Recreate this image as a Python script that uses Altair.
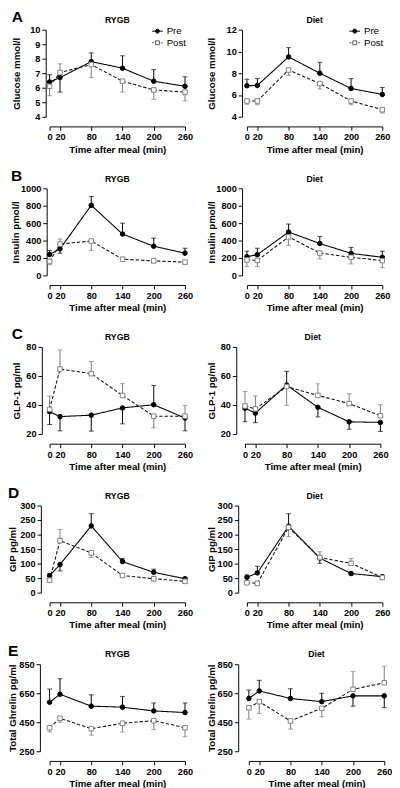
import altair as alt
import pandas as pd

FONT = "Liberation Sans"

times = [0, 20, 80, 140, 200, 260]
series_names = ["Pre", "Post"]

# A: Glucose (mmol/l)  -- mean and end of the (one-sided) SEM bar
glu_rygb_pre = [6.4, 6.7, 7.8, 7.35, 6.45, 6.1]
glu_rygb_pre_bar = [6.9, 5.7, 8.4, 8.2, 7.25, 6.75]
glu_rygb_post = [6.1, 7.05, 7.6, 6.45, 5.85, 5.7]
glu_rygb_post_bar = [5.45, 7.65, 6.7, 5.7, 5.2, 5.1]
glu_diet_pre = [6.85, 6.88, 9.5, 8.0, 6.6, 6.05]
glu_diet_pre_bar = [7.45, 7.5, 10.35, 9.0, 7.5, 6.7]
glu_diet_post = [5.45, 5.45, 8.3, 7.05, 5.45, 4.65]
glu_diet_post_bar = [5.15, 5.1, 7.8, 6.55, 5.1, 4.35]

# B: Insulin (pmol/l)
ins_rygb_pre = [240, 305, 805, 475, 335, 255]
ins_rygb_pre_bar = [285, 255, 905, 600, 428, 312]
ins_rygb_post = [160, 360, 395, 186, 167, 152]
ins_rygb_post_bar = [122, 418, 285, 172, 145, 133]
ins_diet_pre = [215, 238, 498, 366, 253, 208]
ins_diet_pre_bar = [278, 312, 590, 448, 322, 278]
ins_diet_post = [177, 172, 442, 257, 208, 170]
ins_diet_post_bar = [100, 100, 345, 189, 132, 88]

# C: GLP-1 (pg/ml)
glp_rygb_pre = [35.4, 32.0, 33.0, 38.0, 40.2, 31.0]
glp_rygb_pre_bar = [26.5, 22.2, 22.0, 27.0, 53.5, 22.2]
glp_rygb_post = [37.0, 64.8, 61.6, 46.6, 32.3, 32.3]
glp_rygb_post_bar = [46.2, 78.0, 70.0, 54.7, 24.3, 39.8]
glp_diet_pre = [37.8, 34.4, 53.8, 38.4, 28.4, 28.0]
glp_diet_pre_bar = [28.5, 27.8, 63.2, 31.8, 23.3, 21.8]
glp_diet_post = [39.3, 37.3, 52.7, 46.6, 41.0, 32.6]
glp_diet_post_bar = [49.3, 46.2, 39.8, 54.6, 47.8, 40.2]

# D: GIP (pg/ml)
gip_rygb_pre = [58, 97, 230, 107, 70, 48]
gip_rygb_pre_bar = [66, 75, 272, 118, 81, 53]
gip_rygb_post = [43, 179, 137, 59, 48, 39]
gip_rygb_post_bar = [38, 218, 121, 53, 40, 33]
gip_diet_pre = [53, 68, 229, 119, 66, 55]
gip_diet_pre_bar = [61, 91, 272, 101, 61, 60]
gip_diet_post = [34, 32, 225, 121, 101, 52]
gip_diet_post_bar = [30, 28, 193, 141, 118, 46]

# E: Total ghrelin (pg/ml)
ghr_rygb_pre = [588, 643, 561, 554, 528, 517]
ghr_rygb_pre_bar = [679, 750, 639, 628, 583, 583]
ghr_rygb_post = [412, 477, 406, 443, 461, 412]
ghr_rygb_post_bar = [383, 450, 361, 383, 399, 350]
ghr_diet_pre = [614, 666, 614, 592, 632, 632]
ghr_diet_pre_bar = [672, 739, 681, 650, 561, 550]
ghr_diet_post = [550, 592, 459, 546, 677, 722]
ghr_diet_post_bar = [472, 510, 403, 488, 799, 837]

# Tick values per row
glu_rygb_ticks = [4, 5, 6, 7, 8, 9, 10]
glu_diet_ticks = [4, 6, 8, 10, 12]
ins_ticks = [0, 200, 400, 600, 800, 1000]
glp_ticks = [20, 40, 60, 80]
gip_ticks = [0, 50, 100, 150, 200, 250, 300]
ghr_ticks = [250, 450, 650, 850]

W, H = 140, 90
PRE_COL = "#000000"
POST_COL = "#7a7a7a"

LEGEND_PATHS = [
    "M-1.1,0H-0.4M0.4,0H1.1M0.42,0L0.3,0.3L0,0.42L-0.3,0.3L-0.42,0L-0.3,-0.3L0,-0.42L0.3,-0.3Z",
    "M-1.1,0H-0.7M0.7,0H1.1M-0.4,-0.4H0.4V0.4H-0.4Z",
]


def make_df(pre, pre_bar, post, post_bar):
    rows = []
    for t, m, b in zip(times, pre, pre_bar):
        rows.append({"time": t, "series": "Pre", "value": m, "bar": b})
    for t, m, b in zip(times, post, post_bar):
        rows.append({"time": t, "series": "Post", "value": m, "bar": b})
    return pd.DataFrame(rows)


def panel(pre, pre_bar, post, post_bar, ytitle, ticks, title, yoffset=5, ext=24, legend=False):
    df = make_df(pre, pre_bar, post, post_bar)
    xenc = alt.X(
        "time:Q",
        scale=alt.Scale(domain=[0, 260], nice=False, zero=False),
        axis=alt.Axis(
            values=times, title="Time after meal (min)", offset=10, labelFlush=False,
            labelOverlap=False, titlePadding=3, format="d",
        ),
    )
    yaxis = alt.Axis(values=ticks, title=ytitle, offset=yoffset, labelOverlap=False, format="d",
                     minExtent=ext, maxExtent=ext, titlePadding=2)
    yscale = alt.Scale(domain=[ticks[0], ticks[-1]], nice=False, zero=False)
    yenc = alt.Y("value:Q", scale=yscale, axis=yaxis)
    stroke_scale = alt.Scale(domain=series_names, range=[PRE_COL, POST_COL])
    base = alt.Chart(df).encode(x=xenc, y=yenc)
    rules = base.mark_rule(strokeWidth=1).encode(
        y2="bar:Q",
        stroke=alt.Stroke("series:N", scale=stroke_scale, legend=None),
    )
    caps = base.mark_tick(orient="horizontal", size=5, thickness=1).encode(
        y=alt.Y("bar:Q", scale=yscale, axis=yaxis),
        color=alt.Color("series:N", scale=stroke_scale, legend=None),
    )
    lines = base.mark_line(strokeWidth=1.1).encode(
        strokeDash=alt.StrokeDash(
            "series:N", scale=alt.Scale(domain=series_names, range=[[1, 0], [3.5, 2]]), legend=None
        ),
        stroke=alt.Stroke("series:N", scale=alt.Scale(domain=series_names, range=["#000000", "#111111"]), legend=None),
    )
    points = base.mark_point(opacity=1, strokeWidth=1, size=22).encode(
        shape=alt.Shape("series:N", scale=alt.Scale(domain=series_names, range=["circle", "square"]), legend=None),
        fill=alt.Fill("series:N", scale=alt.Scale(domain=series_names, range=["#000000", "#ffffff"]), legend=None),
        stroke=alt.Stroke("series:N", scale=alt.Scale(domain=series_names, range=["#000000", "#808080"]), legend=None),
    )
    layers = [rules, caps, lines, points]
    if legend:
        leg = alt.Legend(
            orient="none", legendX=106, legendY=-4, title=None, padding=0,
            symbolSize=100, symbolStrokeWidth=1, labelFont=FONT, labelFontSize=10,
            labelFontWeight="normal", labelColor="#000000", labelOffset=4, rowPadding=1,
        )
        legend_layer = base.transform_filter("false").mark_point(opacity=1, strokeWidth=1).encode(
            shape=alt.Shape("series:N", scale=alt.Scale(domain=series_names, range=LEGEND_PATHS), legend=leg),
            fill=alt.Fill("series:N", scale=alt.Scale(domain=series_names, range=["#000000", "#ffffff"]), legend=leg),
            stroke=alt.Stroke("series:N", scale=alt.Scale(domain=series_names, range=["#000000", "#555555"]), legend=leg),
        )
        layers.append(legend_layer)
    ch = alt.layer(*layers).resolve_scale(
        shape="independent", fill="independent", stroke="independent", color="independent",
        strokeDash="independent",
    ).properties(
        width=W, height=H,
        title=alt.Title(title, fontSize=9, fontWeight="bold", font=FONT, offset=0, color="#000000"),
    )
    return ch


def row(letter, left, right):
    return alt.hconcat(left, right, spacing=14).properties(
        title=alt.Title(letter, anchor="start", frame="bounds", fontSize=16, fontWeight="bold",
                        font=FONT, offset=-9, color="#000000")
    )


rA = row("A",
         panel(glu_rygb_pre, glu_rygb_pre_bar, glu_rygb_post, glu_rygb_post_bar, "Glucose mmol/l",
               glu_rygb_ticks, "RYGB", yoffset=4, ext=23, legend=True),
         panel(glu_diet_pre, glu_diet_pre_bar, glu_diet_post, glu_diet_post_bar, "Glucose mmol/l",
               glu_diet_ticks, "Diet", yoffset=5, ext=25, legend=True))
rB = row("B",
         panel(ins_rygb_pre, ins_rygb_pre_bar, ins_rygb_post, ins_rygb_post_bar, "Insulin pmol/l",
               ins_ticks, "RYGB", yoffset=3, ext=25),
         panel(ins_diet_pre, ins_diet_pre_bar, ins_diet_post, ins_diet_post_bar, "Insulin pmol/l",
               ins_ticks, "Diet", yoffset=5, ext=25))
rC = row("C",
         panel(glp_rygb_pre, glp_rygb_pre_bar, glp_rygb_post, glp_rygb_post_bar, "GLP-1 pg/ml",
               glp_ticks, "RYGB", yoffset=8, ext=19),
         panel(glp_diet_pre, glp_diet_pre_bar, glp_diet_post, glp_diet_post_bar, "GLP-1 pg/ml",
               glp_ticks, "Diet", yoffset=9, ext=19))
rD = row("D",
         panel(gip_rygb_pre, gip_rygb_pre_bar, gip_rygb_post, gip_rygb_post_bar, "GIP pg/ml",
               gip_ticks, "RYGB", yoffset=9, ext=22),
         panel(gip_diet_pre, gip_diet_pre_bar, gip_diet_post, gip_diet_post_bar, "GIP pg/ml",
               gip_ticks, "Diet", yoffset=9, ext=21))
rE = row("E",
         panel(ghr_rygb_pre, ghr_rygb_pre_bar, ghr_rygb_post, ghr_rygb_post_bar, "Total Ghrelin pg/ml",
               ghr_ticks, "RYGB", yoffset=10, ext=21),
         panel(ghr_diet_pre, ghr_diet_pre_bar, ghr_diet_post, ghr_diet_post_bar, "Total  Ghrelin pg/ml",
               ghr_ticks, "Diet", yoffset=11, ext=21))

chart = alt.vconcat(rA, rB, rC, rD, rE, spacing=14).properties(
    padding={"left": 0, "top": -12, "right": 0, "bottom": 0}
).configure_view(stroke=None).configure_axis(
    labelFont=FONT, labelFontWeight="bold", labelFontSize=9.5, labelColor="#000000",
    titleFont=FONT, titleFontWeight="bold", titleFontSize=10, titleColor="#000000",
    domainColor="#000000", domainWidth=1, tickColor="#000000", tickSize=4, tickWidth=1,
    grid=False, labelPadding=2,
).configure_concat(spacing=12)

chart.save("out.html", embed_options={"renderer": "svg", "actions": False})
